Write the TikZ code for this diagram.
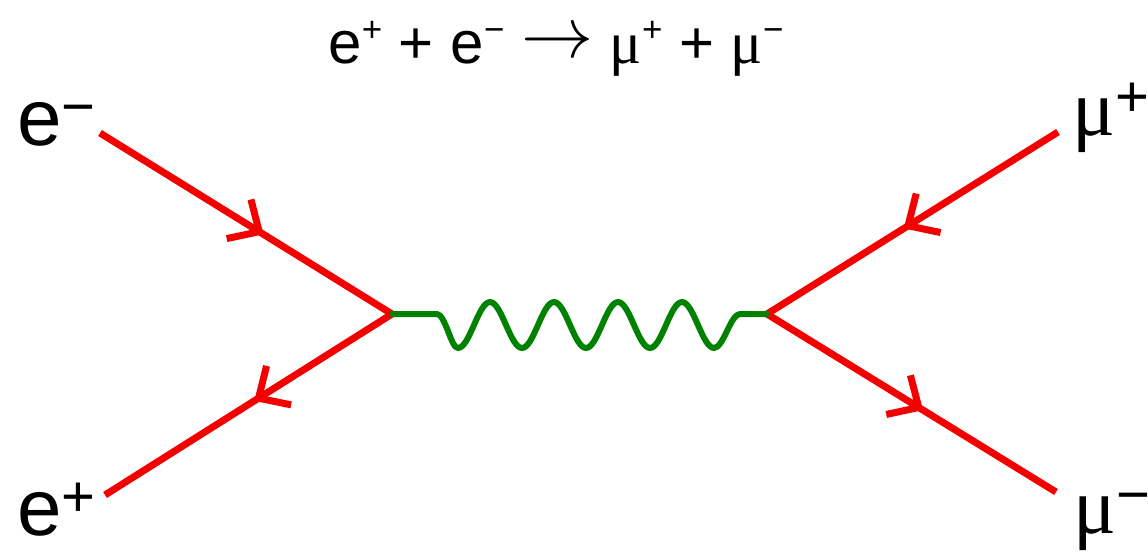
\documentclass[tikz,border=0pt]{standalone}
\usepackage{fontspec}
\setmainfont{Liberation Sans}
\newfontfamily\muface{Liberation Serif}
\usetikzlibrary{arrows.meta,decorations.markings}
\newcommand{\labsup}[1]{\raisebox{19pt}{\fontsize{58}{60}\selectfont #1}}
\newcommand{\titsup}[1]{\raisebox{22pt}{\fontsize{35}{37}\selectfont #1}}
\definecolor{fermion}{RGB}{245,0,0}
\definecolor{photon}{RGB}{0,130,0}
\begin{document}
\begin{tikzpicture}[x=1pt,y=-1pt,
  fermion/.style={draw=fermion,line width=7pt},
  midarrow/.style={postaction={decorate},decoration={markings,
    mark=at position #1 with {\arrow[fermion,line width=7pt]{Straight Barb[length=24pt,width=46pt]}}}},
  photon/.style={draw=photon,line width=6pt,line join=round,line cap=round},
  lab/.style={inner sep=0pt,anchor=base west,font=\fontsize{80}{82}\selectfont},
  mulab/.style={inner sep=0pt,anchor=base west,font=\fontsize{80}{82}\selectfont\muface}]
\useasboundingbox (0,0) rectangle (1148,555);
% vertices
\coordinate (v1) at (392,314);
\coordinate (v2) at (767,314);
\coordinate (a) at (100,133);
\coordinate (b) at (105,495);
\coordinate (c) at (1058,132);
\coordinate (d) at (1056,492);
% title
\node[inner sep=0pt,anchor=base] (title) at (556,63)
  {\fontsize{60}{62}\selectfont e\titsup{+} + e\titsup{−} \smash{\raisebox{6pt}{\scalebox{2.9}{$\rightarrow$}}} {\muface μ}\titsup{+} + {\muface μ}\titsup{−}};
% labels
\node[lab] (lem) at (17,145) {e\labsup{−}};
\node[lab] (lep) at (17,535) {e\labsup{+}};
\node[mulab] (lmp) at (1072,135) {μ\labsup{\rmfamily+}};
\node[mulab] (lmm) at (1073,533) {μ\labsup{\rmfamily−}};
% fermion lines
\path[fermion,midarrow=0.56] (a) -- (v1);
\path[fermion,midarrow=0.48] (v1) -- (b);
\path[fermion,midarrow=0.53] (c) -- (v2);
\path[fermion,midarrow=0.54] (v2) -- (d);
% photon
\draw[photon] (v1) -- (437,314) cos (448,331) sin (458,348)
  cos (474,325) sin (490,302) cos (506,325) sin (522,348)
  cos (538,325) sin (554,302) cos (570,325) sin (586,348)
  cos (602,325) sin (618,302) cos (634,325) sin (650,348)
  cos (666,325) sin (682,302) cos (698,325) sin (714,348)
  cos (727,331) sin (740,314) -- (v2);
\end{tikzpicture}
\end{document}
